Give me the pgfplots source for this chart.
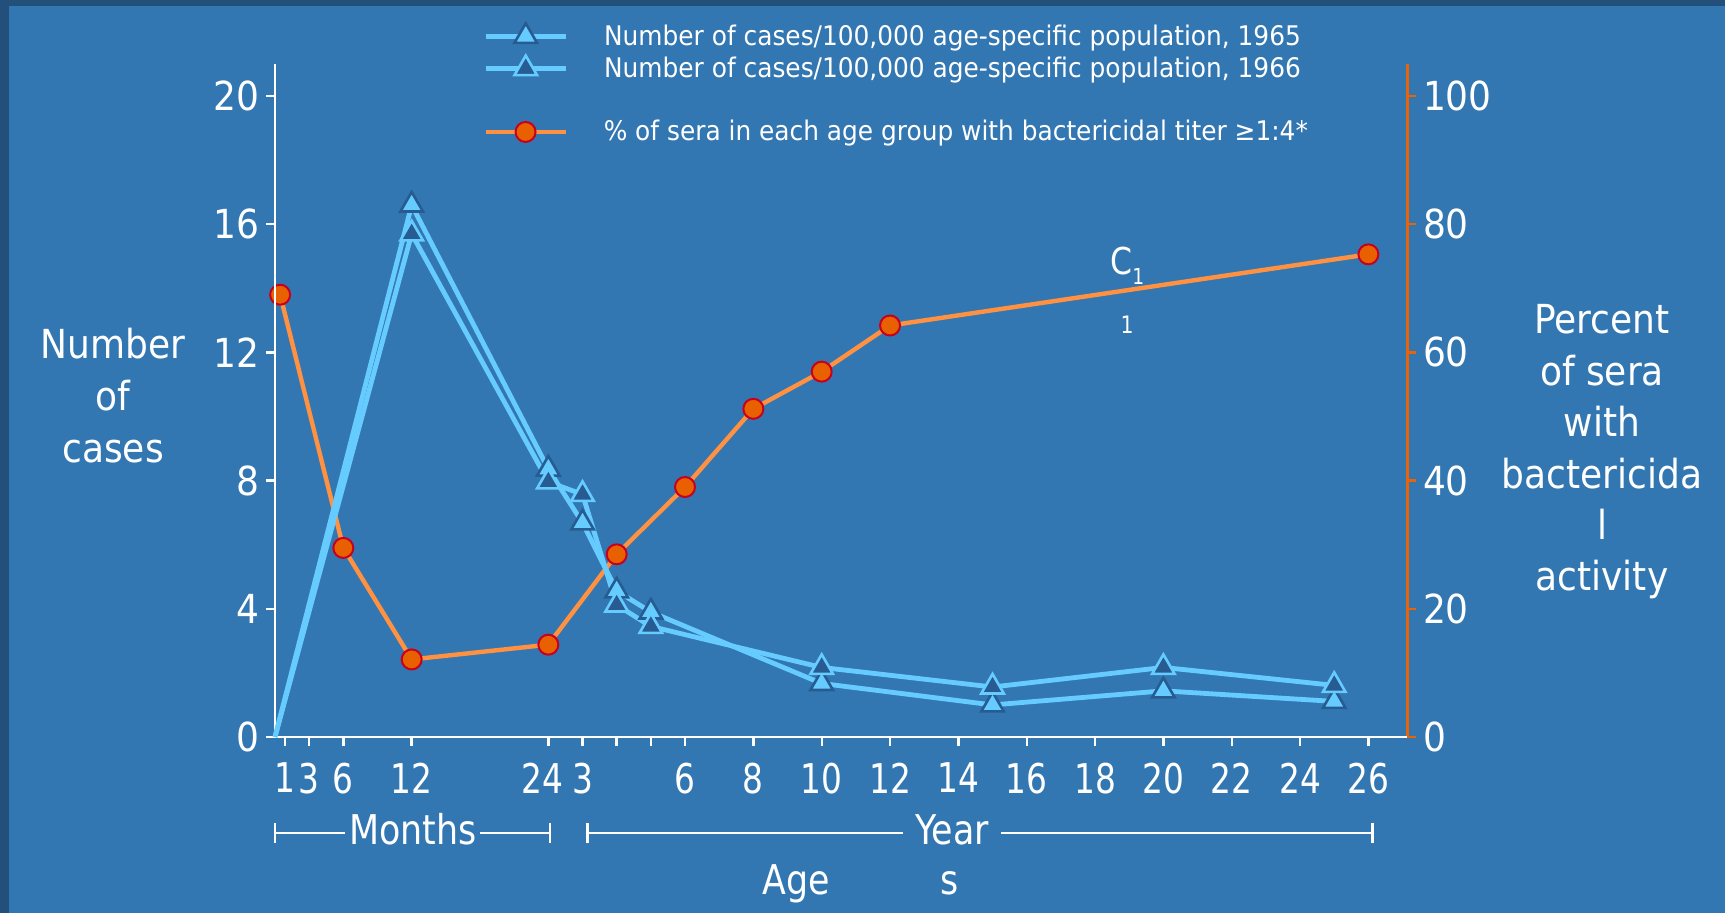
\documentclass[border=0pt]{standalone}
\usepackage{pgfplots}
\pgfplotsset{compat=1.18}
\usepackage{fontspec}
\setmainfont{DejaVu Sans}
\newfontfamily\verd{DejaVu Sans}[FakeStretch=0.9]
\newfontfamily\tah{DejaVu Sans}[FakeStretch=0.85]
\newfontfamily\tahx{DejaVu Sans}[FakeStretch=0.8]
\newfontfamily\tahleg{DejaVu Sans}[FakeStretch=0.92]
\definecolor{bg}{RGB}{51,119,178}
\definecolor{bgdark}{RGB}{34,80,122}
\definecolor{lblue}{RGB}{102,204,255}
\definecolor{dblue}{RGB}{38,92,145}
\definecolor{oline}{RGB}{255,145,64}
\definecolor{omark}{RGB}{232,96,0}
\definecolor{ored}{RGB}{200,0,30}
\definecolor{oaxis}{RGB}{232,100,10}

\pgfplotstableread{
x y
0.15 69
2 29.5
4 12.1
8 14.4
10 28.5
12 39.0
14 51.2
16 57.0
18 64.2
32 75.3
}\sera
\pgfplotstableread{
x y
0 0
4 16.6
8 8.36
9 6.68
10 4.56
11 3.9
16 1.67
21 1.0
26 1.44
31 1.11
}\casesA
\pgfplotstableread{
x y
0 0
4 15.7
8 7.96
9 7.57
10 4.12
11 3.45
16 2.17
21 1.56
26 2.17
31 1.61
}\casesB

\begin{document}
\begin{tikzpicture}
\fill[bg] (0,0) rectangle (862.5pt,456.5pt);
\fill[bgdark] (0,0) rectangle (4.5pt,456.5pt);
\fill[bgdark] (0,453.5pt) rectangle (862.5pt,456.5pt);

% right (orange) axis
\begin{axis}[scale only axis, width=566pt, height=336.5pt, at={(137.5pt,88pt)}, anchor=south west,
 xmin=0, xmax=33.13, ymin=0, ymax=105, clip=false,
 axis x line=none, axis y line*=right,
 axis line style={draw=oaxis, line width=1.5pt, -},
 ytick={0,20,40,60,80,100},
 tick align=outside, major tick length=4.5pt,
 ytick style={draw=oaxis, line width=1.2pt},
 yticklabel style={font=\verd\fontsize{20}{24}\selectfont, text=white},
 /pgf/number format/assume math mode=true,
 legend style={at={(0.1837,0.899)}, anchor=west, draw=none, fill=none, text=white,
   font=\tahleg\fontsize{13.5}{16}\selectfont, column sep=17pt, inner sep=0pt, nodes={inner sep=1pt}},
 legend cell align=left,
 legend image code/.code={\draw[#1,mark=none] (0pt,0pt) -- (40pt,0pt); \draw[#1] plot coordinates {(20pt,0pt)};},
]
\addplot[oline, line width=2.2pt, mark=*, mark size=5pt, mark options={fill=omark, draw=ored, line width=1pt}]
 table[x=x,y=y] {\sera};
\addlegendentry{\% of sera in each age group with bactericidal titer ≥1:4*}
\end{axis}

% left (blue) axis
\begin{axis}[scale only axis, width=566pt, height=336.5pt, at={(137.5pt,88pt)}, anchor=south west,
 xmin=0, xmax=33.13, ymin=0, ymax=21, clip=false,
 axis x line*=bottom, axis y line*=left,
 axis line style={draw=white, line width=1.2pt, -},
 xtick={0.3,1,2,4,8,9,10,11,12,14,16,18,20,22,24,26,28,30,32},
 xticklabels={1,3,6,12,{24\hspace*{6pt}},3,{},{},6,8,10,12,14,16,18,20,22,24,26},
 ytick={0,4,8,12,16,20},
 tick align=outside, major tick length=4.5pt,
 tick style={draw=white, line width=1.2pt},
 xticklabel style={font=\tahx\fontsize{20.5}{24}\selectfont, text=white, yshift=-5pt},
 yticklabel style={font=\verd\fontsize{20}{24}\selectfont, text=white},
 /pgf/number format/assume math mode=true,
 legend style={at={(0.1837,1.0171)}, anchor=west, draw=none, fill=none, text=white,
   font=\tahleg\fontsize{13.5}{16}\selectfont, column sep=17pt, row sep=2.4pt, inner sep=0pt, nodes={inner sep=1pt}},
 legend cell align=left,
 legend image code/.code={\draw[#1,mark=none] (0pt,0pt) -- (40pt,0pt); \draw[#1, mark indices={1}] plot coordinates {(20pt,0pt)};},
]
\addplot[lblue, line width=2.4pt, mark=triangle*, mark size=6.5pt, mark indices={2,3,4,5,6,7,8,9,10},
  mark options={fill=lblue, draw=dblue, line width=1.3pt}]
 table[x=x,y=y] {\casesA};
\addlegendentry{Number of cases/100,000 age-specific population, 1965}
\addplot[lblue, line width=2.4pt, mark=triangle*, mark size=6.5pt, mark indices={2,3,4,5,6,7,8,9,10},
  mark options={fill=dblue, draw=lblue, line width=1.3pt}]
 table[x=x,y=y] {\casesB};
\addlegendentry{Number of cases/100,000 age-specific population, 1966}
\end{axis}

% axis titles
\node[align=center, text=white, font=\verd\fontsize{20}{26}\selectfont] at (56.5pt,258.5pt) {Number\\of\\cases};
\node[align=center, text=white, font=\verd\fontsize{20}{25.7}\selectfont] at (801pt,230.5pt) {Percent\\of sera\\with\\bactericida\\l\\activity};

% age brackets
\draw[white, line width=1.4pt] (137.5pt,40pt) -- (275pt,40pt);
\draw[white, line width=1.4pt] (137.5pt,35pt) -- (137.5pt,45pt);
\draw[white, line width=1.4pt] (275pt,35pt) -- (275pt,45pt);
\draw[white, line width=1.4pt] (293.9pt,40pt) -- (686.4pt,40pt);
\draw[white, line width=1.4pt] (293.9pt,35pt) -- (293.9pt,45pt);
\draw[white, line width=1.4pt] (686.4pt,35pt) -- (686.4pt,45pt);
\node[fill=bg, inner xsep=2pt, inner ysep=1pt, anchor=base, text=white, font=\tah\fontsize{20.5}{24}\selectfont] at (206.4pt,34pt) {Months};
\node[fill=bg, inner xsep=6pt, inner ysep=1pt, anchor=base, text=white, font=\tah\fontsize{20.5}{24}\selectfont] at (476pt,34pt) {Year};
\node[anchor=base, text=white, font=\tah\fontsize{20.5}{24}\selectfont, inner sep=0pt] at (398pt,9pt) {Age};
\node[anchor=base, text=white, font=\tah\fontsize{20.5}{24}\selectfont, inner sep=0pt] at (475pt,9pt) {s};

% C1 annotation
\node[anchor=base west, text=white, font=\tah\fontsize{18.5}{20}\selectfont, inner sep=0pt] at (555pt,319pt) {C\raisebox{-0.25em}{\fontsize{11}{12}\selectfont 1}};
\node[anchor=base, text=white, font=\tah\fontsize{12}{14}\selectfont, inner sep=0pt] at (563.5pt,289.5pt) {1};

\pgfresetboundingbox
\useasboundingbox (0,0) rectangle (862.5pt,456.5pt);
\end{tikzpicture}
\end{document}
